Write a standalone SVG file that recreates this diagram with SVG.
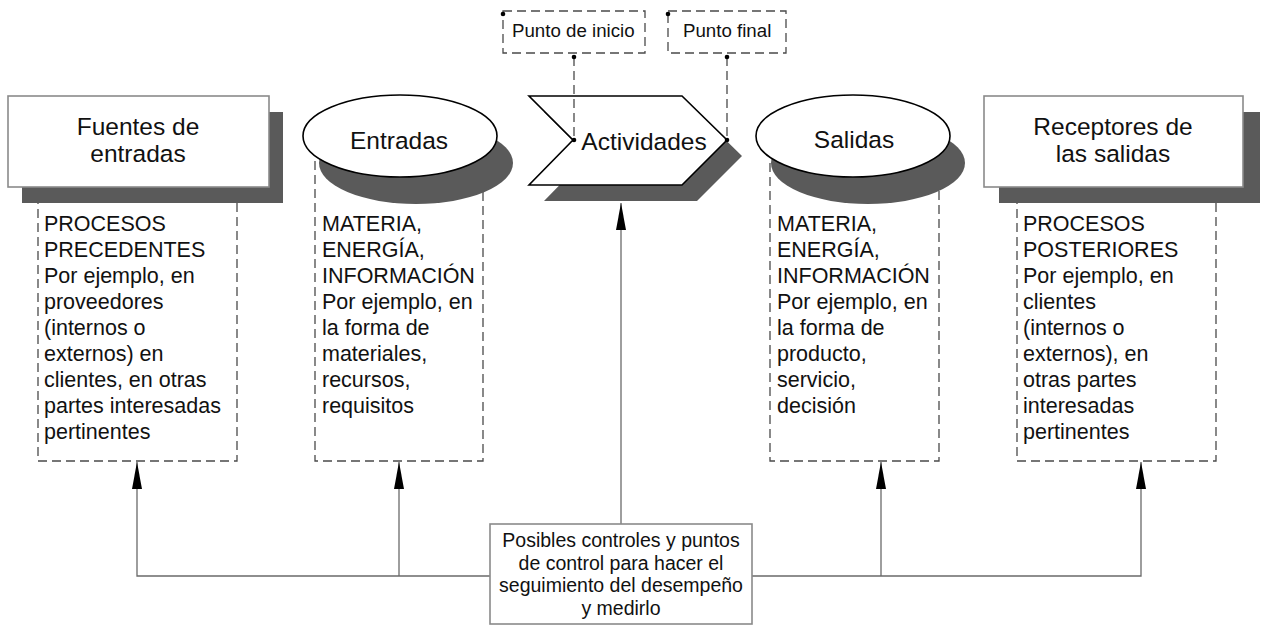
<svg xmlns="http://www.w3.org/2000/svg" width="1266" height="626" viewBox="0 0 1266 626">
<defs>
<style>
.t{font-family:"Liberation Sans",Arial,sans-serif;fill:#111}
.h{font-size:24.5px;text-anchor:middle}
.b{font-size:21.5px}
.s{font-size:18.7px}
.c{font-size:19.5px;text-anchor:middle}
.dash{fill:none;stroke:#4a4a4a;stroke-width:1.3;stroke-dasharray:9 5}
.dashw{fill:#fff;stroke:#4a4a4a;stroke-width:1.3;stroke-dasharray:9 5}
.sh{fill:#5a5a5a}
.tb{fill:#fff;stroke:#8a8a8a;stroke-width:1.6}
.el{fill:#fff;stroke:#000;stroke-width:1.6}
.ln{fill:none;stroke:#6a6a6a;stroke-width:1.3}
.dot{fill:#000}
</style>
<marker id="ah" markerWidth="10" markerHeight="27" refX="5" refY="0" orient="auto-start-reverse" markerUnits="userSpaceOnUse" viewBox="0 0 10 27">
<path d="M5 0 L10 27 L0 27 Z" fill="#000"/>
</marker>
</defs>

<g id="connectors">
<polyline class="ln" points="490,576 137,576 137,462"/>
<line class="ln" x1="399" y1="576" x2="399" y2="462"/>
<polyline class="ln" points="752,576 1141,576 1141,462"/>
<line class="ln" x1="881" y1="576" x2="881" y2="462"/>
<line class="ln" x1="621" y1="524" x2="621" y2="203"/>
<path d="M137 462 l5 27 h-10 Z" fill="#000"/>
<path d="M399 462 l5 27 h-10 Z" fill="#000"/>
<path d="M881 462 l5 27 h-10 Z" fill="#000"/>
<path d="M1141 462 l5 27 h-10 Z" fill="#000"/>
<path d="M621 203 l5 27 h-10 Z" fill="#000"/>
</g>

<g id="fuentes">
<rect class="dash" x="38" y="150" width="199" height="311"/>
<rect class="sh" x="22" y="112" width="261" height="91"/>
<rect class="tb" x="8" y="96" width="261" height="91"/>
<text class="t h" x="138" y="135">Fuentes de</text>
<text class="t h" x="138" y="162">entradas</text>
<text class="t b" x="44" y="231">PROCESOS</text>
<text class="t b" x="44" y="257">PRECEDENTES</text>
<text class="t b" x="44" y="283">Por ejemplo, en</text>
<text class="t b" x="44" y="309">proveedores</text>
<text class="t b" x="44" y="335">(internos o</text>
<text class="t b" x="44" y="361">externos) en</text>
<text class="t b" x="44" y="387">clientes, en otras</text>
<text class="t b" x="44" y="413">partes interesadas</text>
<text class="t b" x="44" y="439">pertinentes</text>
</g>

<g id="entradas">
<rect class="dash" x="315" y="150" width="168" height="311"/>
<ellipse class="sh" cx="416" cy="163" rx="97" ry="41"/>
<ellipse class="el" cx="400" cy="136" rx="97" ry="41"/>
<text class="t h" x="399" y="149">Entradas</text>
<text class="t b" x="322" y="231">MATERIA,</text>
<text class="t b" x="322" y="257">ENERGÍA,</text>
<text class="t b" x="322" y="283">INFORMACIÓN</text>
<text class="t b" x="322" y="309">Por ejemplo, en</text>
<text class="t b" x="322" y="335">la forma de</text>
<text class="t b" x="322" y="361">materiales,</text>
<text class="t b" x="322" y="387">recursos,</text>
<text class="t b" x="322" y="413">requisitos</text>
</g>

<g id="actividades">
<polygon class="sh" points="544,112 697,112 742,156 697,201 544,201 588,156"/>
<polygon class="el" points="529,96 682,96 727,140 682,185 529,185 573,140"/>
<text class="t h" x="644" y="150">Actividades</text>
</g>

<g id="punto-inicio">
<rect class="dashw" x="503" y="11" width="142" height="42"/>
<text class="t s" x="512" y="37">Punto de inicio</text>
<circle class="dot" cx="503" cy="14" r="2.3"/>
<line class="dash" x1="574" y1="57" x2="574" y2="140"/>
<circle class="dot" cx="574" cy="57" r="2.3"/>
<circle class="dot" cx="574" cy="140" r="2.3"/>
</g>

<g id="punto-final">
<rect class="dashw" x="668" y="11" width="118" height="42"/>
<text class="t s" x="683" y="37">Punto final</text>
<circle class="dot" cx="668" cy="14" r="2.3"/>
<line class="dash" x1="727" y1="57" x2="727" y2="140"/>
<circle class="dot" cx="727" cy="57" r="2.3"/>
<circle class="dot" cx="727" cy="140" r="2.3"/>
</g>

<g id="salidas">
<rect class="dash" x="770" y="150" width="169" height="311"/>
<ellipse class="sh" cx="868" cy="163" rx="97" ry="41"/>
<ellipse class="el" cx="853" cy="136" rx="97" ry="41"/>
<text class="t h" x="854" y="148">Salidas</text>
<text class="t b" x="777" y="231">MATERIA,</text>
<text class="t b" x="777" y="257">ENERGÍA,</text>
<text class="t b" x="777" y="283">INFORMACIÓN</text>
<text class="t b" x="777" y="309">Por ejemplo, en</text>
<text class="t b" x="777" y="335">la forma de</text>
<text class="t b" x="777" y="361">producto,</text>
<text class="t b" x="777" y="387">servicio,</text>
<text class="t b" x="777" y="413">decisión</text>
</g>

<g id="receptores">
<rect class="dash" x="1017" y="150" width="199" height="311"/>
<rect class="sh" x="999" y="112" width="261" height="91"/>
<rect class="tb" x="984" y="96" width="259" height="91"/>
<text class="t h" x="1113" y="135">Receptores de</text>
<text class="t h" x="1113" y="162">las salidas</text>
<text class="t b" x="1023" y="231">PROCESOS</text>
<text class="t b" x="1023" y="257">POSTERIORES</text>
<text class="t b" x="1023" y="283">Por ejemplo, en</text>
<text class="t b" x="1023" y="309">clientes</text>
<text class="t b" x="1023" y="335">(internos o</text>
<text class="t b" x="1023" y="361">externos), en</text>
<text class="t b" x="1023" y="387">otras partes</text>
<text class="t b" x="1023" y="413">interesadas</text>
<text class="t b" x="1023" y="439">pertinentes</text>
</g>

<g id="controles">
<rect class="tb" x="490" y="524" width="262" height="100"/>
<text class="t c" x="621" y="547">Posibles controles y puntos</text>
<text class="t c" x="621" y="569.5">de control para hacer el</text>
<text class="t c" x="621" y="592">seguimiento del desempeño</text>
<text class="t c" x="621" y="614.5">y medirlo</text>
</g>
</svg>
